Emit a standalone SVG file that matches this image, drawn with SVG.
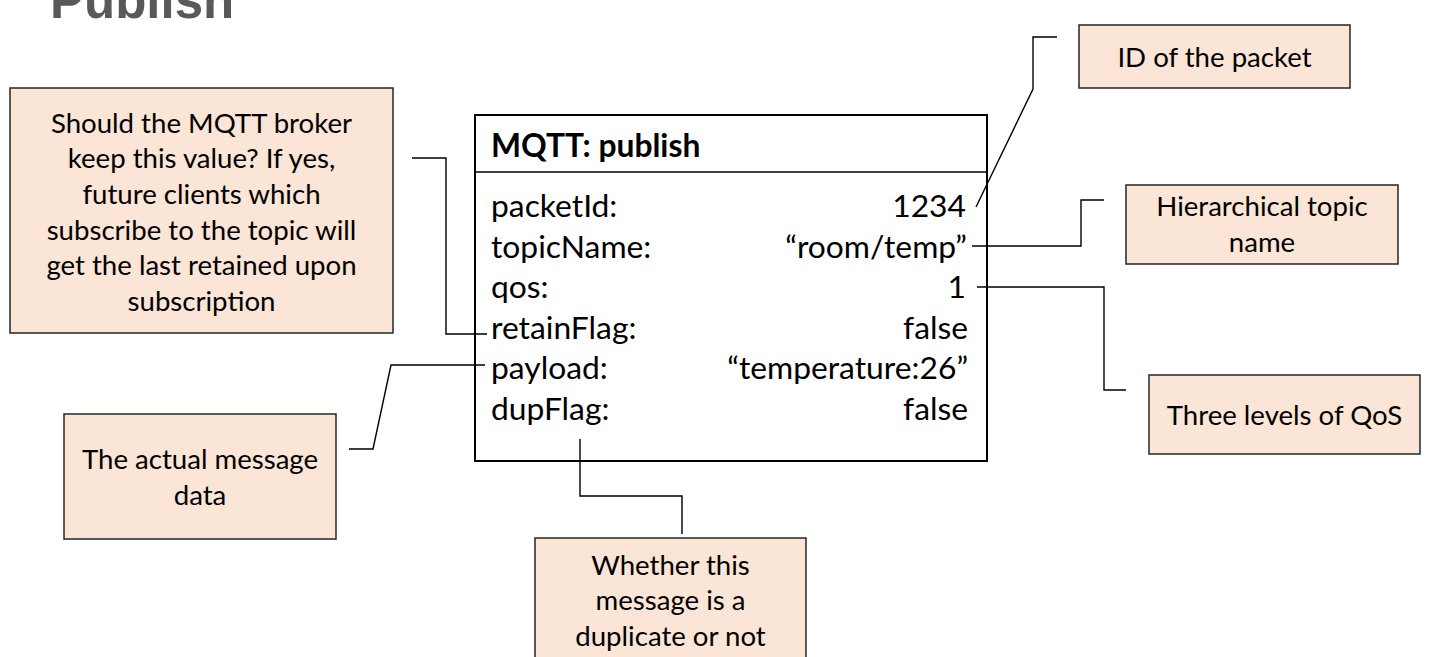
<svg xmlns="http://www.w3.org/2000/svg" width="1440" height="657" viewBox="0 0 1440 657">
<style>
.note{fill:#FBE5D6;stroke:#262626;stroke-width:1.5}
.nt{font-family:Lato,"Carlito","Noto Sans",sans-serif;font-size:27.6px;fill:#000;text-anchor:middle}
.ft{font-family:Lato,"Carlito","Noto Sans",sans-serif;font-size:31.8px;fill:#000}
.fv{text-anchor:end}
.conn{fill:none;stroke:#000;stroke-width:1.4}
</style>
<rect width="1440" height="657" fill="#fff"/>
<text x="50" y="18.3" font-family="'Liberation Sans',Arial,sans-serif" font-size="51" font-weight="bold" fill="#595959">Publish</text>
<g id="packet">
<rect x="475" y="115" width="512" height="346" fill="#fff" stroke="#000" stroke-width="2"/>
<line x1="475" y1="172" x2="987" y2="172" stroke="#000" stroke-width="1.5"/>
<text x="491" y="157" class="ft" font-weight="bold" font-size="37">MQTT: publish</text>
<text x="491" y="217" class="ft">packetId:</text><text x="966" y="217" class="ft fv">1234</text>
<text x="491" y="257.5" class="ft">topicName:</text><text x="967" y="257.5" class="ft fv">“room/temp”</text>
<text x="491" y="298" class="ft">qos:</text><text x="966" y="298" class="ft fv">1</text>
<text x="491" y="338.5" class="ft">retainFlag:</text><text x="968" y="338.5" class="ft fv">false</text>
<text x="491" y="379" class="ft">payload:</text><text x="968" y="379" class="ft fv">“temperature:26”</text>
<text x="491" y="420" class="ft">dupFlag:</text><text x="968" y="420" class="ft fv">false</text>
</g>
<g id="n-retain">
<rect x="10" y="88" width="383" height="245" class="note"/>
<text class="nt" x="201.5" y="132.5">Should the MQTT broker</text>
<text class="nt" x="201.5" y="168.2">keep this value? If yes,</text>
<text class="nt" x="201.5" y="203.9">future clients which</text>
<text class="nt" x="201.5" y="239.5">subscribe to the topic will</text>
<text class="nt" x="201.5" y="275.2">get the last retained upon</text>
<text class="nt" x="201.5" y="310.9">subscription</text>
</g>
<g id="n-payload">
<rect x="64" y="414" width="272" height="125" class="note"/>
<text class="nt" x="200" y="468.8">The actual message</text>
<text class="nt" x="200" y="504.5">data</text>
</g>
<g id="n-dup">
<rect x="535" y="538" width="271" height="160" class="note"/>
<text class="nt" x="670.5" y="574.5">Whether this</text>
<text class="nt" x="670.5" y="610">message is a</text>
<text class="nt" x="670.5" y="645.5">duplicate or not</text>
</g>
<g id="n-id">
<rect x="1079" y="25" width="271" height="63" class="note"/>
<text class="nt" x="1214.5" y="67">ID of the packet</text>
</g>
<g id="n-topic">
<rect x="1126" y="185" width="272" height="79" class="note"/>
<text class="nt" x="1262" y="215.5">Hierarchical topic</text>
<text class="nt" x="1262" y="252">name</text>
</g>
<g id="n-qos">
<rect x="1149" y="375" width="271" height="79" class="note"/>
<text class="nt" x="1284.5" y="424.5">Three levels of QoS</text>
</g>
<g id="connectors">
<polyline class="conn" points="976,207 1033,89 1033,37 1057,37"/>
<polyline class="conn" points="972,246 1081,246 1081,200 1104,200"/>
<polyline class="conn" points="977,287 1104,287 1104,390 1126,390"/>
<polyline class="conn" points="412,158 446,158 446,334 487,334"/>
<polyline class="conn" points="349,449 373,449 391,365 485,365"/>
<polyline class="conn" points="580,439 580,496 682,496 682,534"/>
</g>
</svg>
